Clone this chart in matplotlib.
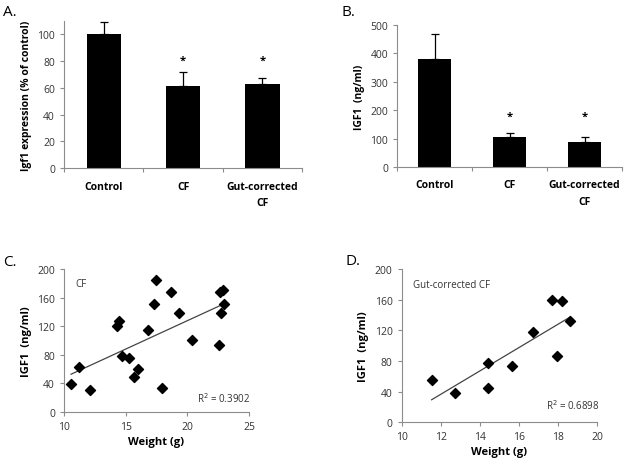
import numpy as np
import matplotlib
matplotlib.use('Agg')
import matplotlib.pyplot as plt

plt.rcParams['font.family'] = ['Open Sans', 'DejaVu Sans']

# panel A / B : bar data
groups = ['Control', 'CF', 'Gut-corrected\nCF']
igf1_expr = [100, 61.5, 62.5]
igf1_expr_err = [9, 10, 4.7]
igf1_serum = [381, 105, 88]
igf1_serum_err = [87, 13, 16]
star_a = [None, 80.5, 80.5]
star_b = [None, 179, 179]

# panel C : CF weight vs IGF1
cf_weight = [10.57, 11.24, 12.13, 14.31, 14.42, 14.69, 15.28, 15.71, 15.98, 16.82, 17.28,
             17.47, 17.98, 18.71, 19.30, 20.40, 22.59, 22.62, 22.75, 22.88, 22.97]
cf_igf1 = [38.6, 62.8, 30.7, 120.9, 127.4, 77.7, 75.3, 48.8, 59.5, 114.0, 151.6,
           185.1, 33.0, 167.4, 137.7, 100.0, 94.0, 167.4, 138.6, 170.7, 151.2]

# panel D : gut-corrected CF weight vs IGF1
gc_weight = [11.53, 12.73, 14.43, 14.43, 15.62, 16.73, 17.67, 17.92, 18.21, 18.60]
gc_igf1 = [55.2, 38.3, 77.0, 44.8, 73.0, 118.3, 159.0, 86.5, 158.3, 132.6]

fig = plt.figure(figsize=(6.25, 4.6), dpi=100)
spine_col = '#8c8c8c'
txt_col = '#333333'


def style(ax):
    for s in ['top', 'right']:
        ax.spines[s].set_visible(False)
    for s in ['left', 'bottom']:
        ax.spines[s].set_color(spine_col)
        ax.spines[s].set_linewidth(0.8)
    ax.tick_params(colors=spine_col, labelcolor=txt_col, labelsize=7.5,
                   length=3, width=0.8, direction='out')


def bar_panel(rect, vals, errs, stars, ylim, yticks, ylabel, letter, lpos):
    ax = fig.add_axes(rect)
    x = np.arange(len(groups))
    ax.bar(x, vals, width=0.43, color='black', zorder=2)
    ax.errorbar(x, vals, yerr=[np.zeros(len(errs)), errs], fmt='none',
                ecolor='black', elinewidth=0.9, capsize=3, capthick=0.9, zorder=3)
    for xi, s in zip(x, stars):
        if s is not None:
            ax.text(xi, s, '*', ha='center', va='center', fontsize=8,
                    fontweight='bold', color='black')
    ax.set_xlim(-0.5, len(groups) - 0.5)
    ax.set_ylim(*ylim)
    ax.set_yticks(yticks)
    ax.set_xticks(np.arange(-0.5, len(groups)), minor=False)
    ax.set_xticklabels([])
    ax.set_xticks(x, minor=True)
    ax.set_xticklabels(groups, minor=True, fontweight='bold', fontsize=7.5,
                       color='black', linespacing=1.7)
    style(ax)
    ax.tick_params(axis='x', which='minor', length=0, pad=9, labelcolor='black')
    ax.set_ylabel(ylabel, fontweight='bold', fontsize=7.5, labelpad=4)
    fig.text(lpos[0], lpos[1], letter, fontsize=11, color='black')
    return ax


bar_panel([0.1024, 0.6326, 0.381, 0.3196], igf1_expr, igf1_expr_err, star_a,
          (0, 110), range(0, 101, 20), 'Igf1 expression (% of control)', 'A.',
          (0.005, 0.965))
bar_panel([0.6352, 0.6348, 0.36, 0.3087], igf1_serum, igf1_serum_err, star_b,
          (0, 500), range(0, 501, 100), 'IGF1  (ng/ml)', 'B.', (0.547, 0.965))


def scatter_panel(rect, xs, ys, xlim, xticks, label, r2, r2pos, letter, lpos):
    ax = fig.add_axes(rect)
    xs = np.array(xs)
    ys = np.array(ys)
    ax.scatter(xs, ys, marker='D', s=26, color='black', zorder=3)
    k, b = np.polyfit(xs, ys, 1)
    xx = np.array([xs.min(), xs.max()])
    ax.plot(xx, k * xx + b, color='#444444', lw=0.9, zorder=2)
    ax.set_xlim(*xlim)
    ax.set_xticks(xticks)
    ax.set_ylim(0, 200)
    ax.set_yticks(range(0, 201, 40))
    style(ax)
    ax.set_xlabel('Weight (g)', fontweight='bold', fontsize=8, labelpad=3)
    ax.set_ylabel('IGF1  (ng/ml)', fontweight='bold', fontsize=8, labelpad=4)
    ax.text(0.06, 0.9, label, transform=ax.transAxes, fontsize=7, color=txt_col,
            va='center')
    ax.text(r2pos[0], r2pos[1], r2, transform=ax.transAxes, fontsize=7,
            color=txt_col, va='center')
    fig.text(lpos[0], lpos[1], letter, fontsize=11, color='black')
    return ax


scatter_panel([0.1024, 0.1022, 0.296, 0.311], cf_weight, cf_igf1, (10, 25),
              range(10, 26, 5), 'CF', 'R$^2$ = 0.3902', (0.72, 0.1), 'C.',
              (0.005, 0.422))
scatter_panel([0.6427, 0.0798, 0.313, 0.3333], gc_weight, gc_igf1, (10, 20),
              range(10, 21, 2), 'Gut-corrected CF', 'R$^2$ = 0.6898', (0.74, 0.115),
              'D.', (0.552, 0.424))

fig.savefig('out.png', dpi=100)
